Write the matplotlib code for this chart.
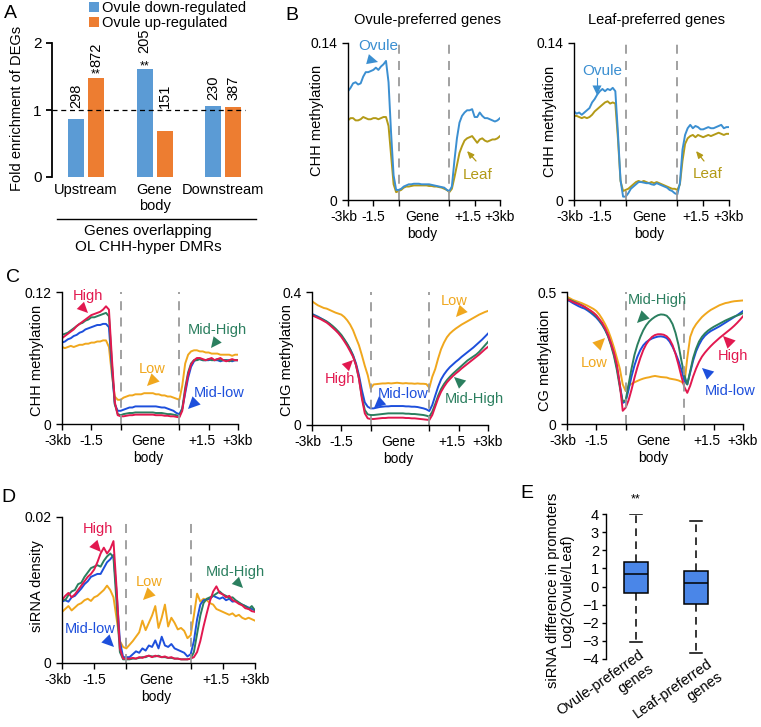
import numpy as np
import matplotlib
matplotlib.use('Agg')
import matplotlib.pyplot as plt
from matplotlib.lines import Line2D

plt.rcParams['font.family'] = ['Liberation Sans', 'DejaVu Sans']
plt.rcParams['font.size'] = 10

# ---------------- data ----------------
# panel A
regions = ['Upstream', 'Gene\nbody', 'Downstream']
fold_down = [0.86, 1.61, 1.06]
fold_up = [1.48, 0.69, 1.05]
n_down = ['298', '205', '230']
n_up = ['872', '151', '387']

# profiles: 61 bins, -3kb..TSS (21), gene body (20), TES..+3kb (20)
bl_ovule = [0.097, 0.100, 0.104, 0.105, 0.103, 0.104, 0.110, 0.114, 0.114, 0.115, 0.116, 0.118, 0.116, 0.119, 0.121, 0.124, 0.105, 0.060, 0.022, 0.009, 0.009,
            0.010, 0.012, 0.013, 0.014, 0.014, 0.0145, 0.0145, 0.0145, 0.014, 0.014, 0.014, 0.014, 0.0135, 0.013, 0.0125, 0.012, 0.0115, 0.011, 0.009, 0.008,
            0.012, 0.035, 0.055, 0.069, 0.075, 0.078, 0.080, 0.080, 0.081, 0.074, 0.074, 0.078, 0.075, 0.073, 0.073, 0.072, 0.071, 0.070, 0.071, 0.073]
bl_leaf = [0.071, 0.073, 0.073, 0.071, 0.071, 0.072, 0.074, 0.073, 0.072, 0.072, 0.073, 0.073, 0.072, 0.073, 0.074, 0.074, 0.066, 0.040, 0.014, 0.007, 0.008,
           0.009, 0.011, 0.012, 0.012, 0.0125, 0.013, 0.013, 0.013, 0.013, 0.013, 0.013, 0.0125, 0.0125, 0.012, 0.012, 0.0115, 0.011, 0.010, 0.009, 0.007,
           0.010, 0.020, 0.031, 0.042, 0.048, 0.053, 0.055, 0.056, 0.057, 0.054, 0.051, 0.054, 0.055, 0.053, 0.052, 0.053, 0.054, 0.054, 0.055, 0.057]
br_ovule = [0.079, 0.077, 0.078, 0.076, 0.078, 0.080, 0.082, 0.087, 0.090, 0.094, 0.097, 0.099, 0.097, 0.099, 0.098, 0.100, 0.097, 0.060, 0.018, 0.003, 0.003,
            0.006, 0.010, 0.012, 0.014, 0.016, 0.016, 0.0155, 0.015, 0.015, 0.014, 0.0135, 0.015, 0.014, 0.013, 0.012, 0.011, 0.009, 0.008, 0.006, 0.005,
            0.015, 0.045, 0.058, 0.064, 0.067, 0.064, 0.066, 0.065, 0.063, 0.063, 0.064, 0.065, 0.064, 0.064, 0.065, 0.066, 0.067, 0.064, 0.065, 0.065]
br_leaf = [0.075, 0.075, 0.074, 0.073, 0.074, 0.073, 0.074, 0.076, 0.079, 0.081, 0.083, 0.085, 0.087, 0.088, 0.086, 0.087, 0.086, 0.055, 0.017, 0.008, 0.009,
           0.010, 0.012, 0.014, 0.016, 0.017, 0.016, 0.017, 0.016, 0.015, 0.016, 0.015, 0.016, 0.015, 0.014, 0.013, 0.012, 0.011, 0.010, 0.010, 0.009,
           0.014, 0.035, 0.050, 0.055, 0.057, 0.058, 0.056, 0.058, 0.057, 0.056, 0.057, 0.058, 0.057, 0.058, 0.059, 0.060, 0.059, 0.058, 0.059, 0.059]

# C: CHH
chh_high = [0.078, 0.080, 0.082, 0.084, 0.086, 0.089, 0.091, 0.093, 0.095, 0.097, 0.099, 0.100, 0.101, 0.102, 0.104, 0.107, 0.104, 0.060, 0.020, 0.008, 0.007,
            0.007, 0.0075, 0.008, 0.008, 0.0085, 0.0085, 0.0085, 0.0085, 0.0085, 0.0085, 0.0085, 0.008, 0.008, 0.008, 0.0075, 0.0075, 0.007, 0.007, 0.0065, 0.006,
            0.012, 0.030, 0.045, 0.054, 0.058, 0.060, 0.060, 0.059, 0.058, 0.059, 0.060, 0.058, 0.059, 0.060, 0.058, 0.057, 0.058, 0.059, 0.058, 0.058]
chh_midhigh = [0.081, 0.082, 0.083, 0.085, 0.087, 0.089, 0.091, 0.092, 0.094, 0.095, 0.097, 0.097, 0.098, 0.099, 0.100, 0.101, 0.098, 0.055, 0.018, 0.009, 0.008,
               0.009, 0.0095, 0.010, 0.010, 0.0105, 0.0105, 0.0105, 0.0105, 0.0105, 0.0105, 0.0105, 0.010, 0.010, 0.010, 0.0095, 0.009, 0.009, 0.0085, 0.008, 0.007,
               0.014, 0.033, 0.047, 0.055, 0.058, 0.058, 0.059, 0.058, 0.058, 0.059, 0.058, 0.058, 0.059, 0.058, 0.058, 0.058, 0.057, 0.058, 0.058, 0.058]
chh_midlow = [0.074, 0.075, 0.077, 0.078, 0.080, 0.081, 0.083, 0.084, 0.086, 0.087, 0.088, 0.089, 0.090, 0.090, 0.091, 0.091, 0.088, 0.050, 0.018, 0.012, 0.012,
              0.013, 0.014, 0.015, 0.015, 0.016, 0.016, 0.016, 0.016, 0.016, 0.016, 0.016, 0.016, 0.0155, 0.015, 0.015, 0.014, 0.013, 0.012, 0.010, 0.009,
              0.014, 0.028, 0.042, 0.052, 0.057, 0.059, 0.059, 0.058, 0.058, 0.058, 0.059, 0.058, 0.058, 0.057, 0.058, 0.058, 0.058, 0.057, 0.058, 0.058]
chh_low = [0.070, 0.069, 0.070, 0.071, 0.070, 0.071, 0.072, 0.072, 0.073, 0.073, 0.074, 0.074, 0.075, 0.075, 0.076, 0.076, 0.070, 0.045, 0.025, 0.022, 0.022,
           0.024, 0.025, 0.026, 0.026, 0.027, 0.027, 0.027, 0.028, 0.028, 0.028, 0.028, 0.027, 0.027, 0.026, 0.026, 0.025, 0.025, 0.024, 0.023, 0.022,
           0.035, 0.055, 0.063, 0.066, 0.067, 0.067, 0.066, 0.066, 0.065, 0.065, 0.064, 0.064, 0.064, 0.063, 0.063, 0.063, 0.063, 0.062, 0.063, 0.063]

# C: CHG
chg_high = [0.330, 0.326, 0.322, 0.318, 0.313, 0.308, 0.301, 0.293, 0.285, 0.276, 0.265, 0.252, 0.238, 0.222, 0.205, 0.180, 0.140, 0.080, 0.035, 0.020, 0.018,
            0.018, 0.019, 0.020, 0.021, 0.021, 0.022, 0.022, 0.022, 0.022, 0.022, 0.022, 0.021, 0.021, 0.020, 0.020, 0.019, 0.018, 0.017, 0.016, 0.015,
            0.030, 0.055, 0.080, 0.100, 0.115, 0.128, 0.138, 0.147, 0.155, 0.162, 0.170, 0.177, 0.184, 0.191, 0.198, 0.205, 0.212, 0.220, 0.228, 0.235]
chg_midhigh = [0.332, 0.328, 0.324, 0.320, 0.316, 0.311, 0.305, 0.298, 0.290, 0.281, 0.271, 0.258, 0.244, 0.228, 0.208, 0.180, 0.140, 0.085, 0.045, 0.032, 0.030,
               0.030, 0.031, 0.032, 0.033, 0.034, 0.035, 0.035, 0.035, 0.035, 0.035, 0.035, 0.034, 0.034, 0.033, 0.033, 0.032, 0.031, 0.030, 0.028, 0.025,
               0.040, 0.063, 0.088, 0.108, 0.123, 0.135, 0.145, 0.154, 0.162, 0.170, 0.178, 0.186, 0.194, 0.200, 0.206, 0.212, 0.220, 0.230, 0.240, 0.250]
chg_midlow = [0.334, 0.330, 0.326, 0.321, 0.316, 0.311, 0.304, 0.296, 0.287, 0.278, 0.268, 0.256, 0.243, 0.228, 0.210, 0.185, 0.150, 0.105, 0.068, 0.055, 0.050,
              0.050, 0.052, 0.054, 0.055, 0.056, 0.056, 0.057, 0.057, 0.057, 0.057, 0.057, 0.056, 0.056, 0.055, 0.055, 0.054, 0.052, 0.050, 0.047, 0.042,
              0.060, 0.088, 0.115, 0.137, 0.152, 0.164, 0.174, 0.182, 0.190, 0.197, 0.205, 0.212, 0.219, 0.226, 0.233, 0.241, 0.249, 0.257, 0.266, 0.275]
chg_low = [0.372, 0.366, 0.360, 0.356, 0.352, 0.350, 0.346, 0.342, 0.338, 0.335, 0.332, 0.325, 0.315, 0.302, 0.285, 0.262, 0.240, 0.210, 0.178, 0.150, 0.110,
           0.122, 0.123, 0.124, 0.125, 0.125, 0.126, 0.125, 0.126, 0.127, 0.126, 0.125, 0.126, 0.125, 0.125, 0.124, 0.125, 0.124, 0.124, 0.123, 0.112,
           0.145, 0.168, 0.200, 0.228, 0.248, 0.264, 0.275, 0.283, 0.290, 0.296, 0.302, 0.307, 0.312, 0.317, 0.322, 0.327, 0.332, 0.336, 0.340, 0.343]

# C: CG
cg_high = [0.472, 0.468, 0.462, 0.458, 0.454, 0.449, 0.444, 0.437, 0.430, 0.422, 0.412, 0.398, 0.383, 0.363, 0.338, 0.305, 0.270, 0.225, 0.150, 0.050, 0.062,
           0.090, 0.130, 0.175, 0.215, 0.250, 0.280, 0.302, 0.318, 0.330, 0.337, 0.340, 0.340, 0.338, 0.332, 0.320, 0.298, 0.265, 0.225, 0.180, 0.140,
           0.118, 0.145, 0.180, 0.210, 0.235, 0.255, 0.270, 0.283, 0.295, 0.306, 0.316, 0.326, 0.335, 0.344, 0.353, 0.362, 0.372, 0.383, 0.395, 0.408]
cg_midhigh = [0.474, 0.470, 0.465, 0.460, 0.455, 0.450, 0.443, 0.435, 0.427, 0.418, 0.408, 0.394, 0.378, 0.358, 0.332, 0.298, 0.258, 0.205, 0.140, 0.085, 0.090,
              0.150, 0.210, 0.262, 0.300, 0.330, 0.355, 0.374, 0.388, 0.398, 0.406, 0.412, 0.415, 0.414, 0.410, 0.398, 0.378, 0.345, 0.300, 0.240, 0.185,
              0.150, 0.200, 0.250, 0.285, 0.312, 0.330, 0.343, 0.353, 0.361, 0.368, 0.374, 0.380, 0.386, 0.392, 0.397, 0.402, 0.407, 0.411, 0.415, 0.420]
cg_midlow = [0.470, 0.465, 0.458, 0.452, 0.446, 0.441, 0.437, 0.430, 0.422, 0.413, 0.403, 0.390, 0.375, 0.356, 0.333, 0.303, 0.265, 0.215, 0.150, 0.080, 0.085,
             0.130, 0.180, 0.222, 0.255, 0.280, 0.298, 0.310, 0.318, 0.324, 0.328, 0.331, 0.332, 0.330, 0.325, 0.312, 0.292, 0.268, 0.240, 0.205, 0.165,
             0.150, 0.195, 0.240, 0.275, 0.300, 0.320, 0.334, 0.344, 0.352, 0.358, 0.364, 0.370, 0.377, 0.384, 0.391, 0.398, 0.405, 0.412, 0.420, 0.428]
cg_low = [0.482, 0.476, 0.470, 0.466, 0.462, 0.458, 0.453, 0.448, 0.442, 0.436, 0.428, 0.415, 0.398, 0.378, 0.355, 0.325, 0.290, 0.250, 0.210, 0.150, 0.125,
          0.145, 0.152, 0.158, 0.163, 0.168, 0.172, 0.175, 0.177, 0.180, 0.182, 0.180, 0.178, 0.177, 0.176, 0.172, 0.170, 0.168, 0.165, 0.160, 0.150,
          0.250, 0.330, 0.360, 0.378, 0.392, 0.405, 0.415, 0.424, 0.432, 0.438, 0.444, 0.450, 0.454, 0.458, 0.460, 0.463, 0.465, 0.466, 0.467, 0.468]

# D: siRNA
si_high = [0.0086, 0.0092, 0.0096, 0.0090, 0.0094, 0.0100, 0.0106, 0.0112, 0.0118, 0.0122, 0.0128, 0.0138, 0.0150, 0.0158, 0.0150, 0.0156, 0.0167, 0.0100, 0.0020, 0.0006, 0.0006,
           0.0006, 0.0007, 0.0006, 0.0008, 0.0007, 0.0009, 0.0010, 0.0008, 0.0010, 0.0009, 0.0008, 0.0009, 0.0007, 0.0008, 0.0006, 0.0006, 0.0005, 0.0005, 0.0005, 0.0006,
           0.0008, 0.0015, 0.0030, 0.0050, 0.0068, 0.0085, 0.0098, 0.0105, 0.0096, 0.0094, 0.0090, 0.0092, 0.0086, 0.0084, 0.0081, 0.0079, 0.0075, 0.0074, 0.0071, 0.0070]
si_midhigh = [0.0088, 0.0086, 0.0093, 0.0098, 0.0100, 0.0108, 0.0110, 0.0118, 0.0124, 0.0130, 0.0132, 0.0134, 0.0132, 0.0140, 0.0146, 0.0150, 0.0145, 0.0080, 0.0015, 0.0005, 0.0005,
              0.0005, 0.0006, 0.0006, 0.0007, 0.0008, 0.0008, 0.0010, 0.0009, 0.0009, 0.0010, 0.0008, 0.0008, 0.0007, 0.0007, 0.0006, 0.0006, 0.0005, 0.0005, 0.0005, 0.0006,
              0.0015, 0.0040, 0.0065, 0.0082, 0.0088, 0.0090, 0.0092, 0.0095, 0.0098, 0.0094, 0.0092, 0.0089, 0.0090, 0.0086, 0.0083, 0.0080, 0.0078, 0.0074, 0.0078, 0.0072]
si_midlow = [0.0084, 0.0086, 0.0084, 0.0090, 0.0092, 0.0097, 0.0102, 0.0108, 0.0112, 0.0118, 0.0120, 0.0122, 0.0122, 0.0130, 0.0138, 0.0142, 0.0148, 0.0095, 0.0030, 0.0008, 0.0008,
             0.0008, 0.0012, 0.0016, 0.0014, 0.0020, 0.0017, 0.0024, 0.0022, 0.0031, 0.0020, 0.0036, 0.0024, 0.0022, 0.0026, 0.0020, 0.0018, 0.0016, 0.0014, 0.0009, 0.0012,
             0.0030, 0.0060, 0.0080, 0.0086, 0.0087, 0.0088, 0.0092, 0.0090, 0.0088, 0.0090, 0.0086, 0.0088, 0.0084, 0.0085, 0.0082, 0.0080, 0.0078, 0.0076, 0.0074, 0.0072]
si_low = [0.0070, 0.0074, 0.0078, 0.0072, 0.0076, 0.0080, 0.0082, 0.0086, 0.0088, 0.0085, 0.0090, 0.0092, 0.0096, 0.0100, 0.0106, 0.0100, 0.0090, 0.0060, 0.0030, 0.0022, 0.0020,
          0.0025, 0.0030, 0.0036, 0.0042, 0.0058, 0.0045, 0.0055, 0.0065, 0.0078, 0.0048, 0.0062, 0.0080, 0.0050, 0.0062, 0.0055, 0.0046, 0.0048, 0.0044, 0.0034, 0.0038,
          0.0065, 0.0095, 0.0084, 0.0088, 0.0086, 0.0082, 0.0080, 0.0074, 0.0072, 0.0070, 0.0068, 0.0066, 0.0068, 0.0064, 0.0066, 0.0062, 0.0060, 0.0062, 0.0060, 0.0058]

# E: box summaries
box_names = [('Ovule-preferred', 'genes'), ('Leaf-preferred', 'genes')]
box_med = [0.67, 0.21]
box_q1 = [-0.38, -0.97]
box_q3 = [1.37, 0.87]
box_lo = [-3.08, -3.65]
box_hi = [3.98, 3.61]

# ---------------- drawing ----------------
W, H = 761, 727
fig = plt.figure(figsize=(W / 100, H / 100), dpi=100)

OV, LF = '#3b8fd1', '#b39a17'
HI, MH, ML, LO = '#e2184f', '#2b7f5f', '#1d4fdc', '#f0a71d'
GRAY = '#9a9a9a'


def add_ax(l, t, r, b):
    return fig.add_axes([l / W, 1 - b / H, (r - l) / W, (b - t) / H])


def fx(x, y):
    return (x / W, 1 - y / H)


def ftext(x, y, s, **kw):
    kw.setdefault('ha', 'center')
    kw.setdefault('va', 'center')
    fig.text(*fx(x, y), s, **kw)


def pointer(ax, tip, base, color, solid=True):
    L = np.hypot(tip[0] - base[0], tip[1] - base[1])
    if solid:
        ms = L / 1.389
        style = '-|>,head_length=0.95,head_width=0.45'
        lw = 0.01
    else:
        ms = 6
        style = '-|>,head_length=0.7,head_width=0.3'
        lw = 0.9
    ax.annotate('', xy=fx(*tip), xytext=fx(*base), xycoords='figure fraction',
                textcoords='figure fraction', annotation_clip=False,
                arrowprops=dict(arrowstyle=style, color=color, lw=lw,
                                shrinkA=0, shrinkB=0, mutation_scale=ms))


x = np.linspace(0, 3, 61)
tick_pos = [0, 0.5, 1.5, 2.5, 3]
tick_lab = ['-3kb', '-1.5', 'Gene\nbody', '+1.5', '+3kb']
tick_dx = [-4, 0, -2, -7, 0]   # px nudges of the labels, as in the original


def profile(ax, curves, ymax, ytop):
    for vals, c in curves:
        ax.plot(x, vals, color=c, lw=1.4, solid_joinstyle='round')
    ax.axvline(1, color=GRAY, lw=1.3, ls=(0, (5, 4)))
    ax.axvline(2, color=GRAY, lw=1.3, ls=(0, (5, 4)))
    ax.set_xlim(0, 3)
    ax.set_ylim(0, ymax)
    for s in ('top', 'right'):
        ax.spines[s].set_visible(False)
    for s in ('left', 'bottom'):
        ax.spines[s].set_linewidth(1.0)
    ax.set_xticks([0, 0.5, 1, 2, 2.5, 3], [''] * 6)
    for p, lab, dx in zip(tick_pos, tick_lab, tick_dx):
        ax.annotate(lab, xy=(p, 0), xycoords=('data', 'axes fraction'),
                    xytext=(dx * 0.72, -7.5), textcoords='offset points',
                    ha='center', va='top', fontsize=10, linespacing=1.25)
    ax.set_yticks([0, ymax], ['0', ytop])
    ax.tick_params(direction='out', length=4, width=1, labelsize=10)


# ---- A ----
axA = add_ax(52, 43, 256, 177)
xa = np.arange(len(regions))
bd = axA.bar(xa - 0.146, fold_down, 0.234, color='#5b9bd5', label='Ovule down-regulated')
bu = axA.bar(xa + 0.146, fold_up, 0.234, color='#ed7d31', label='Ovule up-regulated')
axA.axhline(1, xmax=0.946, color='k', lw=0.9, ls=(0, (4, 3)))
axA.set_xlim(-0.496, 2.48)
axA.set_ylim(0, 2)
for s in ('top', 'right', 'bottom'):
    axA.spines[s].set_visible(False)
axA.spines['left'].set_linewidth(1.3)
axA.set_yticks([0, 1, 2])
axA.tick_params(axis='y', direction='out', length=4, width=1.3, labelsize=11)
axA.set_xticks(xa, regions)
axA.tick_params(axis='x', length=0, labelsize=10.5, pad=4)
num_pos_down = [1.03, 1.85, 1.15]
num_pos_up = [1.64, 1.03, 1.15]
for i in range(len(regions)):
    axA.text(xa[i] - 0.146, num_pos_down[i], n_down[i], rotation=90, ha='center', va='bottom', fontsize=10.5)
    axA.text(xa[i] + 0.146, num_pos_up[i], n_up[i], rotation=90, ha='center', va='bottom', fontsize=10.5)
axA.text(xa[0] + 0.146, 1.48, '**', ha='center', va='baseline', fontsize=9)
axA.text(xa[1] - 0.146, 1.61, '**', ha='center', va='baseline', fontsize=9)
fig.legend(handles=[bd, bu], loc='upper left', bbox_to_anchor=fx(89, 1), frameon=False,
           handlelength=0.7, handleheight=0.7, handletextpad=0.2, labelspacing=0.05,
           borderpad=0, borderaxespad=0, fontsize=10.5)
fig.add_artist(Line2D([57 / W, 256 / W], [1 - 219 / H, 1 - 219 / H], color='k', lw=1))
ftext(148, 224, 'Genes overlapping\nOL CHH-hyper DMRs', va='top', fontsize=11, linespacing=1.2)
ftext(17, 108, 'Fold enrichment of DEGs', rotation=90, fontsize=10.5)

# ---- B ----
axB1 = add_ax(348, 43, 500, 200)
profile(axB1, [(bl_leaf, LF), (bl_ovule, OV)], 0.14, '0.14')
axB2 = add_ax(574, 43, 729, 200)
profile(axB2, [(br_leaf, LF), (br_ovule, OV)], 0.14, '0.14')
ftext(428, 20, 'Ovule-preferred genes', fontsize=10.5)
ftext(657, 20, 'Leaf-preferred genes', fontsize=10.5)
ftext(317, 120, 'CHH methylation', rotation=90, fontsize=10.5)
ftext(550, 121, 'CHH methylation', rotation=90, fontsize=10.5)
ftext(378, 46, 'Ovule', color=OV, fontsize=11)
pointer(axB1, (378, 62), (367, 59), OV)
ftext(478, 175, 'Leaf', color=LF, fontsize=11)
pointer(axB1, (467, 151), (476, 161), LF, solid=False)
ftext(602, 71, 'Ovule', color=OV, fontsize=11)
axB2.add_artist(Line2D([597 / W, 597 / W], [1 - 78 / H, 1 - 86 / H], color=OV, lw=0.8,
                       transform=fig.transFigure, clip_on=False))
pointer(axB2, (597, 95), (597, 85), OV)
ftext(708, 174, 'Leaf', color=LF, fontsize=11)
pointer(axB2, (696, 151), (704, 161), LF, solid=False)

# ---- C ----
order = lambda lo, ml, mh, hi: [(lo, LO), (ml, ML), (mh, MH), (hi, HI)]
axC1 = add_ax(62, 292, 238, 424)
profile(axC1, order(chh_low, chh_midlow, chh_midhigh, chh_high), 0.12, '0.12')
axC2 = add_ax(312, 292, 488, 425)
profile(axC2, order(chg_low, chg_midlow, chg_midhigh, chg_high), 0.4, '0.4')
axC3 = add_ax(567, 292, 743, 424)
profile(axC3, order(cg_low, cg_midlow, cg_midhigh, cg_high), 0.5, '0.5')
ftext(37, 360, 'CHH methylation', rotation=90, fontsize=10.5)
ftext(287, 360, 'CHG methylation', rotation=90, fontsize=10.5)
ftext(545, 360, 'CG methylation', rotation=90, fontsize=10.5)

# ---- D ----
axD = add_ax(62, 517, 255, 663)
profile(axD, order(si_low, si_midlow, si_midhigh, si_high), 0.02, '0.02')
ftext(37, 586, 'siRNA density', rotation=90, fontsize=10.5)

labels = [
    (axC1, 'High', (88, 296), (88, 313), (80, 305), HI),
    (axC1, 'Mid-High', (217, 330), (211, 348), (218, 339), MH),
    (axC1, 'Low', (152, 369), (147, 386), (156, 377), LO),
    (axC1, 'Mid-low', (219, 393), (188, 409), (197, 400), ML),
    (axC2, 'Low', (454, 301), (456, 317), (464, 308), LO),
    (axC2, 'High', (340, 379), (353, 360), (345, 368), HI),
    (axC2, 'Mid-low', (403, 394), (374, 408), (383, 400), ML),
    (axC2, 'Mid-High', (474, 399), (454, 377), (463, 385), MH),
    (axC3, 'Mid-High', (657, 300), (637, 323), (646, 314), MH),
    (axC3, 'Low', (594, 363), (605, 338), (596, 347), LO),
    (axC3, 'High', (733, 356), (723, 336), (732, 345), HI),
    (axC3, 'Mid-low', (730, 391), (702, 368), (711, 376), ML),
    (axD, 'High', (98, 529), (101, 552), (93, 543), HI),
    (axD, 'Low', (149, 582), (143, 600), (152, 591), LO),
    (axD, 'Mid-low', (90, 629), (114, 647), (105, 638), ML),
    (axD, 'Mid-High', (235, 572), (243, 588), (235, 580), MH),
]
for ax, s, tp, tip, base, c in labels:
    ftext(*tp, s, color=c, fontsize=10.5)
    pointer(ax, tip, base, c)

# ---- E ----
axE = add_ax(606, 514, 726, 659)
stats = [dict(med=box_med[i], q1=box_q1[i], q3=box_q3[i], whislo=box_lo[i],
              whishi=box_hi[i], fliers=[]) for i in range(2)]
axE.bxp(stats, positions=[1, 2], widths=0.4, patch_artist=True, showfliers=False,
        capwidths=0.2,
        boxprops=dict(facecolor='#4a86e8', edgecolor='k', linewidth=1.1),
        medianprops=dict(color='k', linewidth=1.1),
        whiskerprops=dict(color='k', linewidth=1.1, linestyle=(0, (5, 3.5))),
        capprops=dict(color='k', linewidth=1.1))
axE.set_xlim(0.5, 2.5)
axE.set_ylim(-4, 4)
for s in ('top', 'right', 'bottom'):
    axE.spines[s].set_visible(False)
axE.spines['left'].set_linewidth(1.0)
axE.set_yticks(range(-4, 5))
axE.tick_params(axis='y', direction='out', length=3, width=1, labelsize=10.5, pad=2)
axE.set_xticks([])
# rotated category labels, each line right-aligned at its baseline end
ends = [((645, 657), (654, 671)), ((713, 665), (723, 679))]
for (l1, l2), (p1, p2) in zip(box_names, ends):
    ftext(*p1, l1, rotation=35, ha='right', va='baseline', rotation_mode='anchor', fontsize=10.5)
    ftext(*p2, l2, rotation=35, ha='right', va='baseline', rotation_mode='anchor', fontsize=10.5)
ftext(636, 499, '**', fontsize=9)
ftext(560, 590, 'siRNA difference in promoters\nLog2(Ovule/Leaf)', rotation=90,
      fontsize=10.5, linespacing=1.0)

# panel letters
for s, px, py in [('A', 10, 14), ('B', 292, 15), ('C', 13, 278), ('D', 8, 498), ('E', 527, 494)]:
    ftext(px, py, s, fontsize=14)

fig.savefig('out.png', dpi=100)
